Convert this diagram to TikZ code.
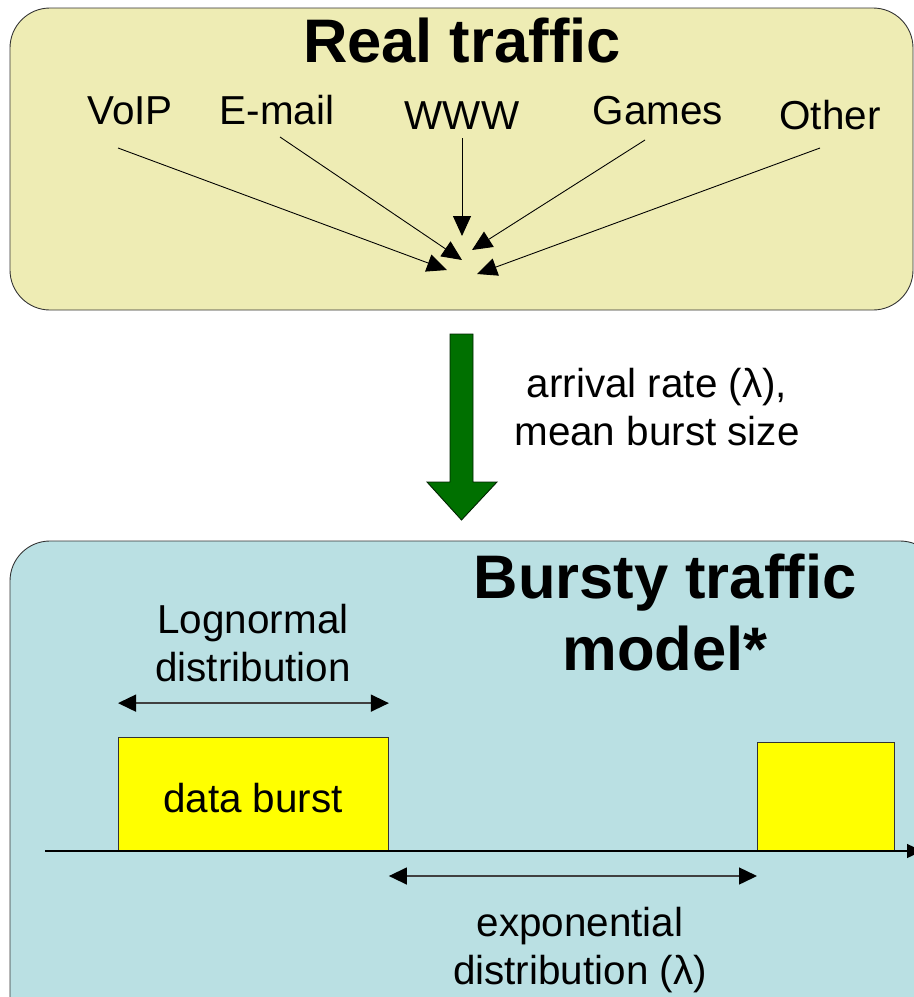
\documentclass[tikz,border=0pt]{standalone}
\usepackage{fontspec}
\setmainfont{Liberation Sans}
\usepackage{tikz}
\usetikzlibrary{arrows.meta, positioning}
\usepackage{xcolor}

\definecolor{realfill}{RGB}{238,236,180}
\definecolor{modelfill}{RGB}{186,224,227}
\definecolor{burstyellow}{RGB}{255,255,0}
\definecolor{arrowgreen}{RGB}{0,112,0}

\begin{document}
\begin{tikzpicture}[
    x=0.2mm, y=-0.2mm,
    panel/.style={draw=black!80, line width=0.5pt, rounded corners=8mm},
    title/.style={font=\fontsize{35}{41}\selectfont\bfseries, align=center, anchor=base},
    lbl/.style={font=\fontsize{23}{27}\selectfont, align=center, anchor=base},
    feed/.style={draw=black, line width=0.5pt,
                 -{Triangle[length=4mm, width=3.6mm]}},
    span/.style={draw=black!75, line width=0.8pt,
                 {Triangle[length=3.6mm, width=3.4mm, color=black]}-{Triangle[length=3.6mm, width=3.4mm, color=black]}},
    burst/.style={rectangle, draw=black!80, fill=burstyellow, line width=0.5pt,
                  inner sep=0pt, anchor=south west},
]
  \useasboundingbox (0,0) rectangle (914,997);
  \clip (0,0) rectangle (914,997);

  % ---- panels ----
  \filldraw[panel, fill=realfill]  (10,8)   rectangle (913,310);
  \filldraw[panel, fill=modelfill] (10,541) rectangle (940,1040);

  % ---- real traffic ----
  \node[title] (real) at (462,62) {Real traffic};
  \node[lbl] (voip)  at (130,124) {VoIP};
  \node[lbl] (email) at (277,124) {E-mail};
  \node[lbl] (www)   at (462,129) {WWW};
  \node[lbl] (games) at (658,124) {Games};
  \node[lbl] (other) at (830,129) {Other};

  % line starts and tips
  \coordinate (voipA)  at (118,148);  \coordinate (voipB)  at (447,270);
  \coordinate (emailA) at (280,137);  \coordinate (emailB) at (462,260);
  \coordinate (wwwA)   at (462,138);  \coordinate (wwwB)   at (462,236);
  \coordinate (gamesA) at (645,140);  \coordinate (gamesB) at (472,250);
  \coordinate (otherA) at (820,148);  \coordinate (otherB) at (477,274);

  \draw[feed] (voipA)  -- (voipB);
  \draw[feed] (emailA) -- (emailB);
  \draw[feed] (wwwA)   -- (wwwB);
  \draw[feed] (gamesA) -- (gamesB);
  \draw[feed] (otherA) -- (otherB);

  % ---- parameters arrow ----
  \filldraw[fill=arrowgreen, draw=black!70!arrowgreen, line width=0.5pt]
    (450,334) -- (473,334) -- (473,482) -- (497,482) -- (461.5,520)
    -- (427,482) -- (450,482) -- cycle;
  % two-line nodes sit on the baseline of their last line
  \node[lbl] (params) at (657,445) {arrival rate (λ),\\mean burst size};

  % ---- bursty model ----
  \node[title, font=\fontsize{35}{40.8}\selectfont\bfseries] (model) at (665,670)
    {Bursty traffic\\model*};

  \node[burst, minimum width=270*0.2mm, minimum height=113*0.2mm] (burst1)
    at (118,851) {};
  \node[burst, minimum width=137*0.2mm, minimum height=108*0.2mm] (burst2)
    at (757,851) {};
  \node[lbl] (data) at (253,812) {data burst};

  % time axis
  \coordinate (t0)   at (45,851);
  \coordinate (tend) at (922,851);
  \draw[line width=0.8pt, -{Triangle[length=3mm, width=2.8mm]}] (t0) -- (tend);

  % burst length
  \node[lbl] (logn) at (253,681) {Lognormal\\distribution};
  \draw[span] ([yshift=6.8mm]burst1.north west) -- ([yshift=6.8mm]burst1.north east);

  % gap between bursts
  \draw[span] ([yshift=-5mm]burst1.south east) -- ([yshift=-5mm]burst2.south west);
  \node[lbl] (expo) at (580,984) {exponential\\distribution (λ)};
\end{tikzpicture}
\end{document}
